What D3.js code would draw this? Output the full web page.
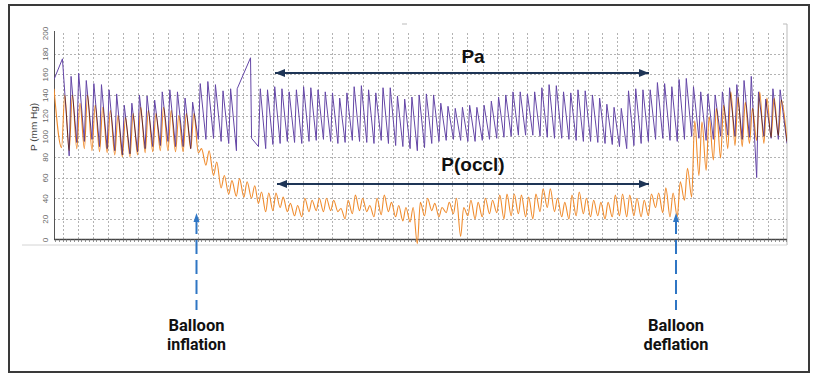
<!DOCTYPE html>
<html>
<head>
<meta charset="utf-8">
<script src="https://cdn.jsdelivr.net/npm/d3@7"></script>
<style>
  html, body { margin: 0; padding: 0; background: #fff; }
  svg { display: block; font-family: "Liberation Sans", Arial, sans-serif; }
</style>
</head>
<body>
<svg id="chart" width="817" height="378"></svg>
<script>
// beat-by-beat extremes (mm Hg)
// segment A = before the second flush, segment B = after it
const paSysA = [158, 161, 154, 151, 150, 145, 141, 130, 132, 140, 139, 135, 143, 145, 143, 137, 133, 151, 153, 150, 144, 146];
const paDiaA = [81, 94, 95, 97, 90, 88, 86, 82, 83, 85, 88, 90, 91, 95, 90, 90, 88, 97, 97, 98, 95, 93];
const paSysB = [146, 145, 148, 146, 143, 145, 148, 147, 145, 143, 142, 137, 142, 148, 149, 145, 142, 147, 147, 139,
  136, 138, 140, 141, 140, 132, 129, 127, 128, 130, 128, 130, 134, 138, 140, 143, 143, 141, 143, 147,
  150, 149, 143, 142, 145, 144, 140, 137, 131, 128, 127, 144, 146, 145, 145, 152, 151, 148, 155, 156,
  148, 143, 141, 140, 143, 147, 150, 154, 158, 143, 136, 146, 145];
const paDiaB = [90, 88, 92, 93, 95, 94, 93, 95, 96, 97, 95, 93, 94, 96, 95, 94, 93, 96, 93, 91,
  90, 88, 86, 89, 93, 95, 96, 97, 96, 95, 95, 96, 97, 98, 99, 100, 101, 101, 101, 100,
  99, 98, 98, 97, 96, 95, 95, 94, 93, 92, 90, 88, 91, 93, 95, 97, 98, 96, 95, 97,
  100, 98, 96, 97, 100, 101, 100, 97, 99, 60, 100, 98, 97];

const occSysA = [140, 140, 132, 140, 130, 128, 125, 120, 118, 122, 128, 125, 122, 128, 125, 120, 122, 122, 88, 86, 75, 62, 57, 59, 56, 52];
const occDiaA = [89, 86, 88, 88, 86, 85, 84, 82, 80, 80, 82, 84, 85, 86, 86, 85, 85, 88, 84, 72, 62, 50, 44, 42, 41, 40];
const occSysB = [46, 45, 45, 41, 35, 33, 40, 38, 40, 40, 38, 30, 38, 43, 40, 33, 40, 43, 36, 33,
  31, 31, 36, 40, 35, 31, 36, 40, 31, 38, 36, 40, 38, 43, 44, 44, 43, 41, 44, 49,
  49, 40, 36, 43, 46, 40, 38, 36, 36, 43, 44, 43, 40, 38, 44, 45, 50, 45, 56, 69,
  115, 114, 119, 127, 130, 143, 138, 133, 127, 143, 137, 137, 135];
const occDiaB = [35, 27, 28, 31, 27, 23, 22, 27, 28, 27, 28, 27, 20, 25, 28, 27, 22, 24, 27, 22,
  18, 17, -4, 23, 28, 22, 26, 25, 3, 23, 20, 22, 25, 26, 20, 23, 25, 22, 20, 27,
  31, 27, 22, 20, 23, 25, 22, 23, 20, 22, 23, 22, 23, 22, 23, 31, 26, 22, 22, 38,
  41, 62, 67, 77, 79, 88, 91, 90, 93, 96, 93, 99, 101];

// flush artefacts and trace ends, [time s, mm Hg]
const paFlush1 = [[0.87, 155], [1.99, 175]];
const paFlush2 = [[25.19, 86], [25.29, 146], [27.07, 176], [27.21, 98]];
const paTail = [[98.6, 93]];
const occHead = [[0.87, 146]];
const occTail = [[98.6, 95]];

// beat timing (s)
const paTimingA = { start: 2.89, period: 1.013 };
const occTimingA = { start: 1.877, period: 1.013 };
const timingB = { start: 28.13, period: 0.9627 };

const yTicks = [0, 20, 40, 60, 80, 100, 120, 140, 160, 180, 200];
const gridTimes = d3.range(2, 99, 2);
const minorTimes = d3.range(1, 98.6, 0.5);

const svg = d3.select('#chart');
const x = d3.scaleLinear().domain([0, 98]).range([47.5, 782.5]);
const y = d3.scaleLinear().domain([0, 200]).range([239.5, 33]);
const xL = 54, xR = 787;

// outer frame
svg.append('rect').attr('x', 9).attr('y', 5).attr('width', 800).attr('height', 367)
  .attr('fill', 'none').attr('stroke', '#3a3a3a').attr('stroke-width', 2);

// faint chart-box remnants
svg.append('line').attr('x1', 402).attr('x2', 407).attr('y1', 24).attr('y2', 24).attr('stroke', '#bbb');
svg.append('path').attr('d', `M${xR - 4},24H${xR}V245`).attr('fill', 'none').attr('stroke', '#bbb');
svg.append('line').attr('x1', 22).attr('x2', xR).attr('y1', 245).attr('y2', 245).attr('stroke', '#d4d4d4');

// grid
const grid = svg.append('g').attr('stroke', '#a0a0a0').attr('stroke-width', 0.8).attr('stroke-dasharray', '2,2');
grid.selectAll('.h').data(yTicks.filter(v => v > 0 && v < 200)).enter().append('line')
  .attr('x1', xL).attr('x2', xR).attr('y1', d => Math.round(y(d)) + 0.5).attr('y2', d => Math.round(y(d)) + 0.5);
grid.selectAll('.v').data(gridTimes).enter().append('line')
  .attr('x1', d => Math.round(x(d)) + 0.5).attr('x2', d => Math.round(x(d)) + 0.5)
  .attr('y1', y(200)).attr('y2', y(0));

// y axis
const yAxis = svg.append('g').attr('transform', `translate(${xL},0)`)
  .call(d3.axisLeft(y).tickValues(yTicks).tickSize(0).tickPadding(0));
yAxis.select('.domain').attr('stroke', '#555').attr('d', `M0.5,31V${y(0)}`);
yAxis.selectAll('text')
  .attr('transform', 'rotate(-90)').attr('text-anchor', 'middle')
  .attr('x', 0).attr('y', -6.5).attr('dy', 0)
  .attr('font-size', 8).attr('fill', '#666');
svg.append('text').attr('transform', 'translate(37,127) rotate(-90)')
  .attr('text-anchor', 'middle').attr('font-size', 9).attr('fill', '#444')
  .attr('textLength', 48).attr('lengthAdjust', 'spacingAndGlyphs')
  .text('P (mm Hg)');

// x axis with minor ticks
svg.append('line').attr('x1', xL).attr('x2', xR).attr('y1', y(0)).attr('y2', y(0))
  .attr('stroke', '#444').attr('stroke-width', 1.3);
svg.append('g').selectAll('line').data(minorTimes).enter().append('line')
  .attr('x1', d => Math.round(x(d)) + 0.5).attr('x2', d => Math.round(x(d)) + 0.5)
  .attr('y1', y(0)).attr('y2', y(0) + 2.5).attr('stroke', '#777').attr('stroke-width', 0.8);

// traces
function beats(timing, rise, dia, sys) {
  return dia.flatMap((d, i) => {
    const t = timing.start + i * timing.period;
    return [[t, d], [t + rise * timing.period, sys[i]]];
  });
}
const paPts = [...paFlush1, ...beats(paTimingA, 0.25, paDiaA, paSysA), ...paFlush2,
  ...beats(timingB, 0.25, paDiaB, paSysB), ...paTail];
const occPts = [...occHead, ...beats(occTimingA, 0.42, occDiaA, occSysA),
  ...beats(timingB, 0.42, occDiaB, occSysB), ...occTail];

svg.append('defs').append('clipPath').attr('id', 'plot')
  .append('rect').attr('x', xL).attr('y', 20).attr('width', xR - xL).attr('height', 230);

const traces = svg.append('g').attr('clip-path', 'url(#plot)');
traces.append('path').datum(paPts)
  .attr('d', d3.line().x(d => x(d[0])).y(d => y(d[1])))
  .attr('fill', 'none').attr('stroke', '#6446a6').attr('stroke-width', 1).attr('stroke-linejoin', 'round');
traces.append('path').datum(occPts)
  .attr('d', d3.line().curve(d3.curveMonotoneX).x(d => x(d[0])).y(d => y(d[1])))
  .attr('fill', 'none').attr('stroke', '#f08c2e').attr('stroke-width', 1.1)
  .style('mix-blend-mode', 'multiply');

// annotations: double-headed arrows
const navy = '#1e3556';
const defs = svg.select('defs');
defs.append('marker').attr('id', 'headR').attr('viewBox', '0 0 10 8').attr('refX', 10).attr('refY', 4)
  .attr('markerWidth', 5).attr('markerHeight', 4).attr('orient', 'auto')
  .append('path').attr('d', 'M0,0L10,4L0,8Z').attr('fill', navy);
defs.append('marker').attr('id', 'headL').attr('viewBox', '0 0 10 8').attr('refX', 0).attr('refY', 4)
  .attr('markerWidth', 5).attr('markerHeight', 4).attr('orient', 'auto')
  .append('path').attr('d', 'M10,0L0,4L10,8Z').attr('fill', navy);

const spans = [
  { label: 'Pa', yPos: 73, x1: 275, x2: 649, ty: 63 },
  { label: 'P(occl)', yPos: 184, x1: 277, x2: 649, ty: 171 }
];
spans.forEach(s => {
  svg.append('line').attr('x1', s.x1).attr('x2', s.x2).attr('y1', s.yPos).attr('y2', s.yPos)
    .attr('stroke', navy).attr('stroke-width', 2)
    .attr('marker-start', 'url(#headL)').attr('marker-end', 'url(#headR)');
  svg.append('text').attr('x', 473).attr('y', s.ty).attr('text-anchor', 'middle')
    .attr('font-size', 19).attr('font-weight', 'bold').attr('fill', '#111').text(s.label);
});

// balloon markers
const blue = '#2f76c4';
const events = [
  { x: 196.5, lines: ['Balloon', 'inflation'], widths: [56, 59] },
  { x: 676, lines: ['Balloon', 'deflation'], widths: [56, 65] }
];
events.forEach(e => {
  svg.append('line').attr('x1', e.x).attr('x2', e.x).attr('y1', 220).attr('y2', 310)
    .attr('stroke', blue).attr('stroke-width', 2).attr('stroke-dasharray', '14,6');
  svg.append('path').attr('d', `M${e.x - 3},222L${e.x},213L${e.x + 3},222Z`).attr('fill', blue);
  e.lines.forEach((t, i) => {
    svg.append('text').attr('x', e.x).attr('y', 331 + i * 19).attr('text-anchor', 'middle')
      .attr('font-family', 'Roboto, sans-serif').attr('font-weight', 'bold').attr('font-size', 16)
      .attr('textLength', e.widths[i]).attr('lengthAdjust', 'spacingAndGlyphs')
      .attr('fill', '#111').text(t);
  });
});
</script>
</body>
</html>
